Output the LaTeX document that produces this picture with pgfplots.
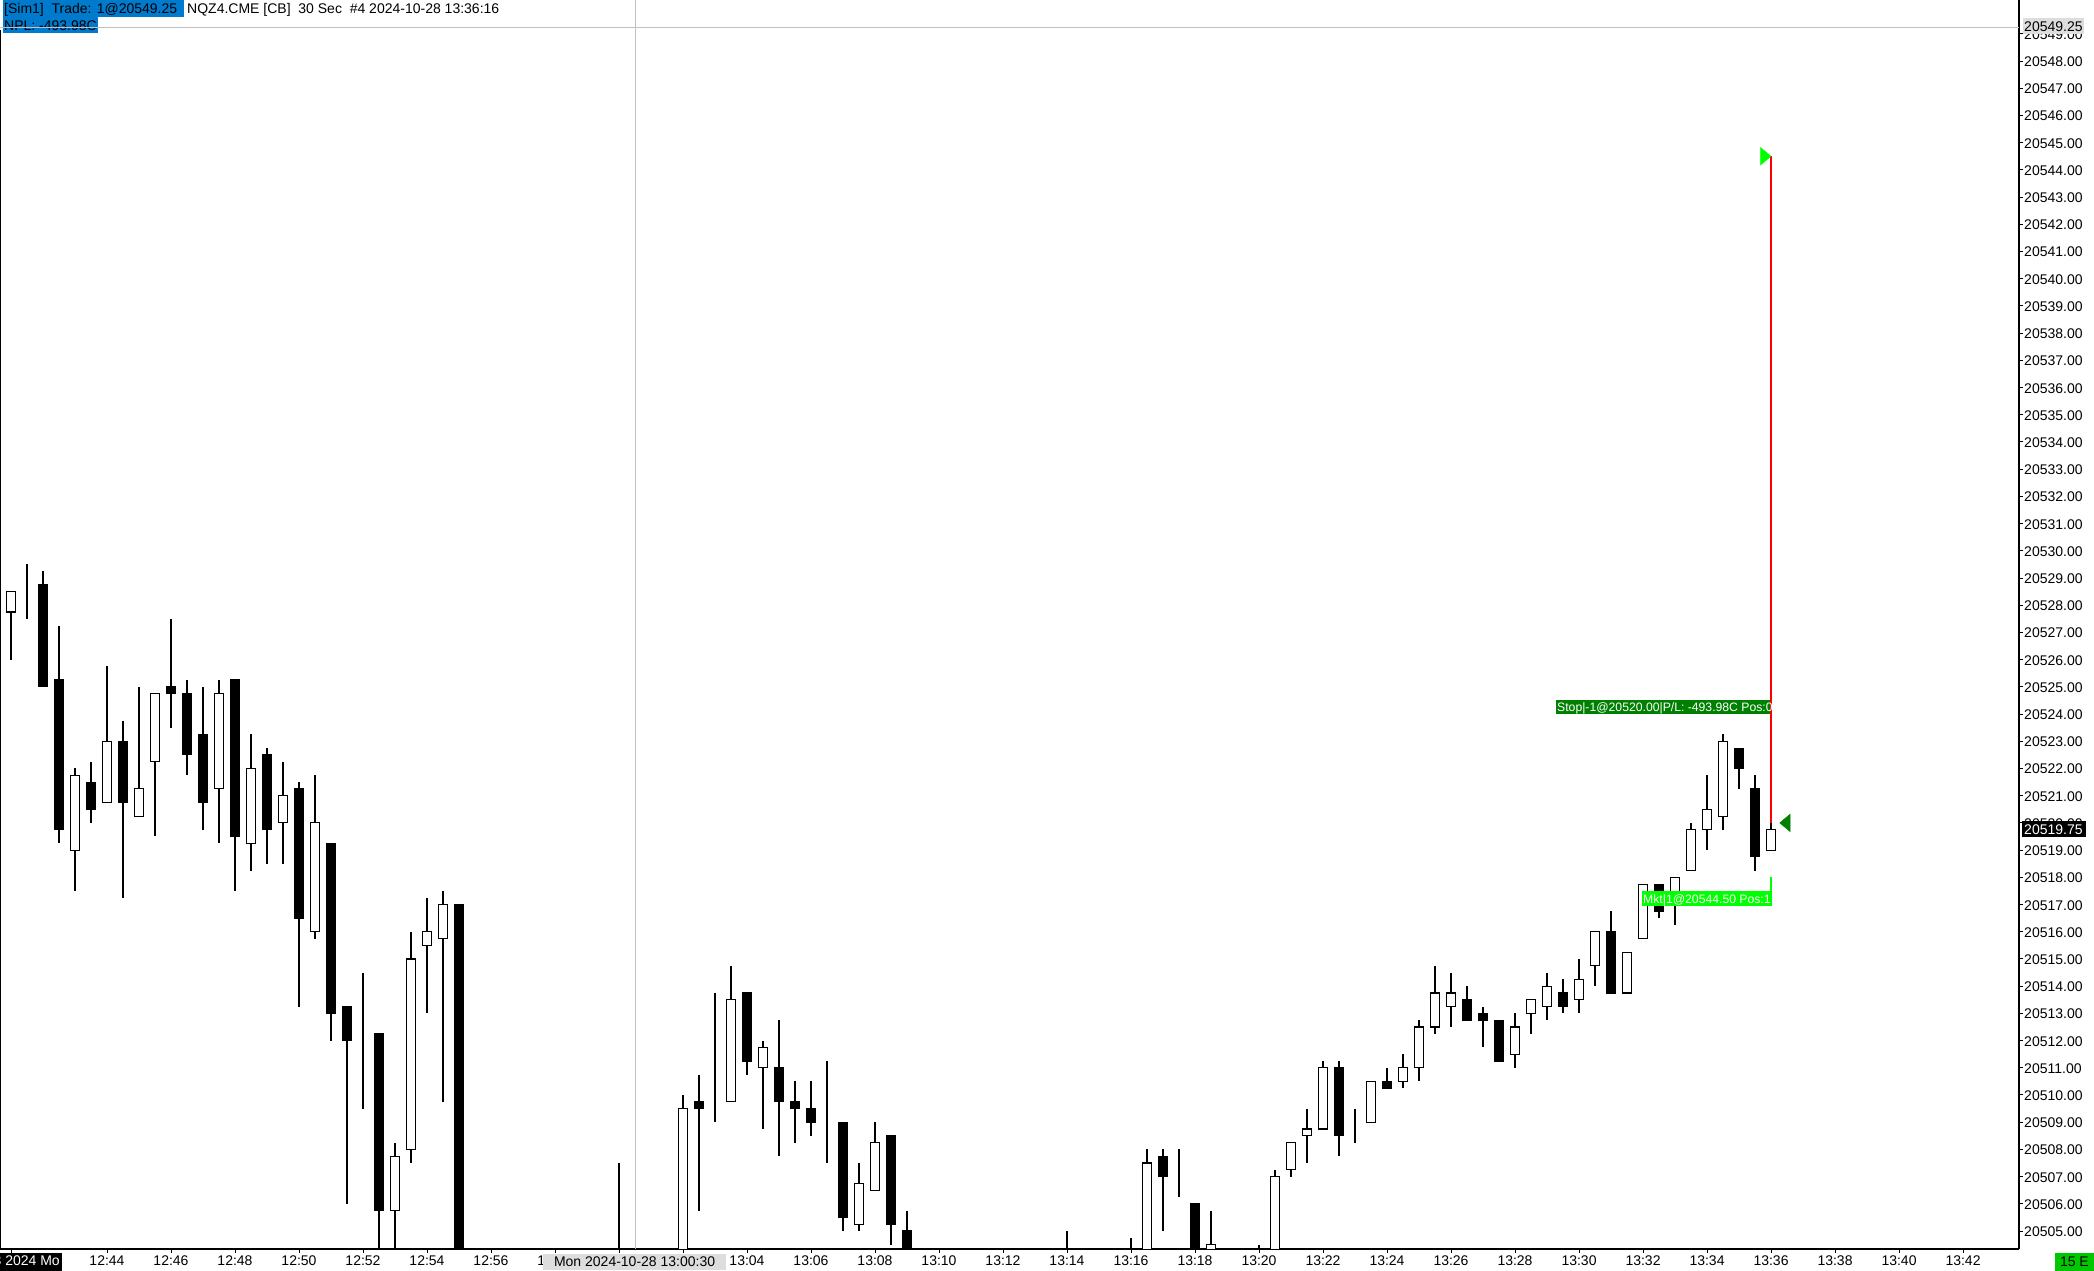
\documentclass[border=0pt]{standalone}
\usepackage{pgfplots}
\pgfplotsset{compat=1.18}
\usepackage{pgfplotstable}
\usepackage{fontspec}
\setmainfont{Liberation Sans}
\definecolor{hdrblue}{RGB}{0,122,204}
\definecolor{xgray}{RGB}{192,192,192}
\definecolor{lblgray}{RGB}{221,221,221}
\definecolor{dgreen}{RGB}{0,128,0}
\definecolor{lgreen}{RGB}{0,255,0}
\definecolor{sgreen}{RGB}{0,200,0}
\newcommand\tf{\fontsize{14pt}{16pt}\selectfont}
\newcommand\lf{\fontsize{12.2pt}{14pt}\selectfont}
\newcommand\PX[2]{(#1pt,1271pt-#2pt)}

% 30-second candles, k = bar index (0 = 12:44), prices O H L C
\pgfplotstableread{
k O H L C
-6 20527.75 20528.50 20526.00 20528.50
-5 20528.00 20529.50 20527.50 20528.00
-4 20528.75 20529.25 20525.00 20525.00
-3 20525.25 20527.25 20519.25 20519.75
-2 20519.00 20522.00 20517.50 20521.75
-1 20521.50 20522.25 20520.00 20520.50
0 20520.75 20525.75 20520.75 20523.00
1 20523.00 20523.75 20517.25 20520.75
2 20520.25 20525.00 20520.25 20521.25
3 20522.25 20524.75 20519.50 20524.75
4 20525.00 20527.50 20523.50 20524.75
5 20524.75 20525.25 20521.75 20522.50
6 20523.25 20525.00 20519.75 20520.75
7 20521.25 20525.25 20519.25 20524.75
8 20525.25 20525.25 20517.50 20519.50
9 20519.25 20523.25 20518.25 20522.00
10 20522.50 20522.75 20518.50 20519.75
11 20520.00 20522.25 20518.50 20521.00
12 20521.25 20521.50 20513.25 20516.50
13 20516.00 20521.75 20515.75 20520.00
14 20519.25 20519.25 20512.00 20513.00
15 20513.25 20513.25 20506.00 20512.00
16 20511.75 20514.50 20509.50 20511.75
17 20512.25 20512.25 20503.00 20505.75
18 20505.75 20508.25 20503.00 20507.75
19 20508.00 20516.00 20507.50 20515.00
20 20515.50 20517.25 20513.00 20516.00
21 20515.75 20517.50 20509.75 20517.00
22 20517.00 20517.00 20502.50 20503.00
32 20503.00 20507.50 20502.00 20502.50
36 20503.00 20510.00 20502.50 20509.50
37 20509.75 20510.75 20505.75 20509.50
38 20509.50 20513.75 20509.00 20509.50
39 20509.75 20514.75 20509.75 20513.50
40 20513.75 20513.75 20510.75 20511.25
41 20511.00 20512.00 20508.75 20511.75
42 20511.00 20512.75 20507.75 20509.75
43 20509.75 20510.50 20508.25 20509.50
44 20509.50 20510.50 20508.50 20509.00
45 20509.00 20511.25 20507.50 20509.00
46 20509.00 20509.00 20505.00 20505.50
47 20505.25 20507.50 20505.00 20506.75
48 20506.50 20509.00 20506.50 20508.25
49 20508.50 20508.50 20504.50 20505.25
50 20505.00 20505.75 20502.50 20503.00
60 20503.50 20505.00 20502.50 20503.00
64 20503.50 20504.75 20502.50 20503.00
65 20503.00 20508.00 20502.50 20507.50
66 20507.75 20508.00 20505.00 20507.00
67 20506.75 20508.00 20506.25 20506.75
68 20506.00 20506.00 20502.50 20503.00
69 20503.50 20505.75 20502.50 20504.50
72 20503.50 20504.50 20502.50 20503.00
73 20503.00 20507.25 20502.50 20507.00
74 20507.25 20508.25 20507.00 20508.25
75 20508.50 20509.50 20507.50 20508.75
76 20508.75 20511.25 20508.75 20511.00
77 20511.00 20511.25 20507.75 20508.50
78 20509.00 20509.50 20508.25 20509.00
79 20509.00 20510.50 20509.00 20510.50
80 20510.50 20511.00 20510.25 20510.25
81 20510.50 20511.50 20510.25 20511.00
82 20511.00 20512.75 20510.50 20512.50
83 20512.50 20514.75 20512.25 20513.75
84 20513.25 20514.50 20512.50 20513.75
85 20513.50 20514.00 20512.75 20512.75
86 20513.00 20513.25 20511.75 20512.75
87 20512.75 20512.75 20511.25 20511.25
88 20511.50 20513.00 20511.00 20512.50
89 20513.00 20513.50 20512.25 20513.50
90 20513.25 20514.50 20512.75 20514.00
91 20513.75 20514.25 20513.00 20513.25
92 20513.50 20515.00 20513.00 20514.25
93 20514.75 20516.00 20514.00 20516.00
94 20516.00 20516.75 20513.75 20513.75
95 20513.75 20515.25 20513.75 20515.25
96 20515.75 20517.75 20515.75 20517.75
97 20517.75 20517.75 20516.50 20516.75
98 20517.25 20518.00 20516.25 20518.00
99 20518.25 20520.00 20518.25 20519.75
100 20519.75 20521.75 20519.00 20520.50
101 20520.25 20523.25 20519.75 20523.00
102 20522.75 20522.75 20521.25 20522.00
103 20521.25 20521.75 20518.25 20518.75
104 20519.00 20520.00 20519.00 20519.75
}\candles

\pgfplotsset{common/.style={
  at={(0pt,22pt)}, anchor=south west,
  scale only axis, width=2019pt, height=1249pt,
  xmin=-6.6875, xmax=119.5, ymin=4.340, ymax=50.242,
  enlargelimits=false}}

\begin{document}
\begin{tikzpicture}
\useasboundingbox (0,0) rectangle (2094pt,1271pt);
% header
\fill[hdrblue] \PX{3}{0} rectangle \PX{184}{17.3};
\fill[hdrblue] \PX{3}{17.3} rectangle \PX{98}{33.3};
\node[anchor=base west, inner sep=0pt, font=\tf] at \PX{4}{13.5} {[Sim1]\ \ Trade: 1@20549.25};
\node[anchor=base west, inner sep=0pt, font=\tf] at \PX{187}{13.5} {NQZ4.CME [CB]\ \ 30 Sec\ \ \#4 2024-10-28 13:36:16};
\node[anchor=base west, inner sep=0pt, font=\tf] at \PX{4}{31} {NPL: -493.98C};
\draw[line width=1.2pt] \PX{0.6}{30} -- \PX{0.6}{1249};

\begin{axis}[common,
  axis x line*=bottom, axis y line*=right,
  axis line style={-, line width=1.2pt, black},
  every outer x axis line/.append style={-},
  every outer y axis line/.append style={-},
  tick align=outside, major tick length=4pt,
  tick style={black, line width=1pt},
  xtick={-6,0,4,8,12,16,20,24,28,32,36,40,44,48,52,56,60,64,68,72,76,80,84,88,92,96,100,104,108,112,116},
  xticklabels={{},12:44,12:46,12:48,12:50,12:52,12:54,12:56,12:58,13:00,13:02,13:04,13:06,13:08,13:10,13:12,13:14,13:16,13:18,13:20,13:22,13:24,13:26,13:28,13:30,13:32,13:34,13:36,13:38,13:40,13:42},
  ytick={5,6,...,49},
  yticklabels={20505.00,20506.00,20507.00,20508.00,20509.00,20510.00,20511.00,20512.00,20513.00,20514.00,20515.00,20516.00,20517.00,20518.00,20519.00,20520.00,20521.00,20522.00,20523.00,20524.00,20525.00,20526.00,20527.00,20528.00,20529.00,20530.00,20531.00,20532.00,20533.00,20534.00,20535.00,20536.00,20537.00,20538.00,20539.00,20540.00,20541.00,20542.00,20543.00,20544.00,20545.00,20546.00,20547.00,20548.00,20549.00},
  tick label style={font=\tf, text=black},
  xticklabel style={anchor=base, inner sep=0pt, yshift=-13pt},
  yticklabel style={anchor=base west, inner sep=0pt, xshift=1pt, yshift=-5.5pt},
]
% crosshair
\addplot [xgray, line width=1pt, forget plot] coordinates {(-6.6875,49.25) (119.5,49.25)};
\addplot [xgray, line width=1pt, forget plot] coordinates {(33,4.34) (33,50.242)};
% wicks (high to low)
\addplot [draw=none, mark=none, forget plot,
  error bars/.cd, y dir=minus, y explicit, error mark=none,
  error bar style={draw=black, line width=1.2pt, solid}]
  table [x=k, y expr=\thisrow{H}-20500, y error expr=\thisrow{H}-\thisrow{L}] {\candles};
% trade line and markers
\addplot [red, line width=1.6pt, forget plot] coordinates {(104,44.5) (104,20.0)};
\addplot [lgreen, line width=1.2pt, forget plot] coordinates {(104,18.0) (104,17.5)};
\addplot [only marks, mark=triangle*, mark size=7pt, forget plot,
  mark options={rotate=-90, xscale=1.45, fill=lgreen, draw=lgreen}] coordinates {(103.56,44.5)};
\addplot [only marks, mark=triangle*, mark size=7pt, forget plot,
  mark options={rotate=90, xscale=1.45, fill=dgreen, draw=dgreen}] coordinates {(104.98,20.0)};
\end{axis}

\begin{axis}[common, hide axis, ybar stacked, bar width=0.6]
\addplot [draw=none, fill=none] table [x=k, y expr={min(\thisrow{O},\thisrow{C})-20500}] {\candles};
\addplot [draw=black, fill=white, line width=1.1pt] table [x=k, y expr={max(\thisrow{C}-\thisrow{O},0)}] {\candles};
\addplot [draw=black, fill=black, line width=1.1pt] table [x=k, y expr={max(\thisrow{O}-\thisrow{C},0)}] {\candles};
\end{axis}

% order labels
\fill[dgreen] \PX{1556}{700} rectangle \PX{1770}{714.5};
\node[anchor=base west, inner sep=0pt, font=\lf, text=white] at \PX{1557}{712} {Stop|-1@20520.00|P/L: -493.98C Pos:0};
\fill[lgreen] \PX{1641.7}{891} rectangle \PX{1771.7}{906};
\node[anchor=base west, inner sep=0pt, font=\lf, text=white] at \PX{1643}{903.5} {Mkt|1@20544.50 Pos:1};
% price axis labels
\fill[lblgray] \PX{2023}{18.5} rectangle \PX{2084}{34.3};
\node[anchor=base west, inner sep=0pt, font=\tf] at \PX{2024}{32} {20549.25};
\fill[black] \PX{2022}{821.5} rectangle \PX{2086}{837.5};
\node[anchor=base west, inner sep=0pt, font=\tf, text=white] at \PX{2024}{834.7} {20519.75};
% time axis labels
\fill[black] \PX{0}{1252.7} rectangle \PX{62}{1271};
\node[anchor=base east, inner sep=0pt, font=\tf, text=white] at \PX{60}{1266} {3 2024 Mo};
\fill[lblgray] \PX{543.3}{1254} rectangle \PX{726}{1270};
\node[anchor=base, inner sep=0pt, font=\tf] at \PX{634.6}{1266.5} {Mon 2024-10-28 13:00:30};
\fill[sgreen] \PX{2055}{1252.7} rectangle \PX{2094}{1271};
\node[anchor=base east, inner sep=0pt, font=\tf] at \PX{2089}{1266.5} {15 E};
\end{tikzpicture}
\end{document}
